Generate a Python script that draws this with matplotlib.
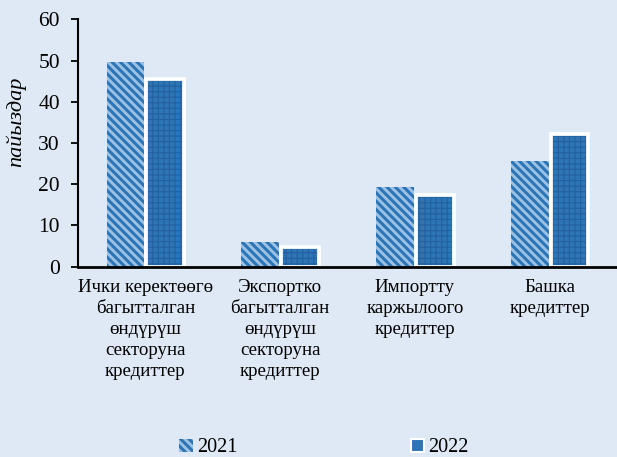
import numpy as np
import matplotlib
matplotlib.use("Agg")
import matplotlib.pyplot as plt
from matplotlib.patches import Patch

# dados (%)
categorias = [
    "Ички керектөөгө\nбагытталган\nөндүрүш\nсекторуна\nкредиттер",
    "Экспортко\nбагытталган\nөндүрүш\nсекторуна\nкредиттер",
    "Импортту\nкаржылоого\nкредиттер",
    "Башка\nкредиттер",
]
anos = ["2021", "2022"]
valores_2021 = [49.7, 6.0, 19.4, 25.6]
valores_2022 = [45.4, 4.7, 17.4, 32.2]
yticks = [0, 10, 20, 30, 40, 50, 60]

FUNDO = "#dee9f5"
AZUL_CLARO = "#9cc3e6"
AZUL = "#2e75b6"
AZUL_ESC = "#22609f"


def espessura_hachura(patches, lw):
    # espessura da hachura por barra (quando a versão permite)
    for p in patches:
        if hasattr(p, "set_hatch_linewidth"):
            p.set_hatch_linewidth(lw)


plt.rcParams["font.family"] = ["Liberation Serif", "DejaVu Serif"]
plt.rcParams["hatch.linewidth"] = 2.2

fig = plt.figure(figsize=(6.17, 4.57), dpi=100, facecolor=FUNDO)
ax = fig.add_axes([0.1264, 0.4164, 0.8736, 0.5414])
ax.set_facecolor(FUNDO)

x = np.arange(len(categorias))
w = 0.28
off = 0.148

# 2021 - listras diagonais
b21 = ax.bar(x - off, valores_2021, w, color=AZUL_CLARO, edgecolor=AZUL,
             hatch="\\\\\\\\", linewidth=0, zorder=2)
espessura_hachura(b21, 2.2)
h1 = Patch(facecolor=AZUL_CLARO, edgecolor=AZUL, hatch="\\\\\\\\", linewidth=0)

# 2022 - azul com trama fina, contorno branco
b22 = ax.bar(x + off, valores_2022, w, color=AZUL, edgecolor=AZUL_ESC,
             hatch="+++", linewidth=0, zorder=2)
espessura_hachura(b22, 0.8)
ax.bar(x + off, valores_2022, w, color="none", edgecolor="white",
       linewidth=2.7, zorder=3)

ax.set_xlim(-0.5, 3.5)
ax.set_ylim(0, 60)
ax.set_yticks(yticks)
ax.set_xticks(x)
ax.set_xticklabels(categorias, fontsize=13.6, linespacing=1.3)
ax.tick_params(axis="x", length=0, pad=9)
ax.tick_params(axis="y", labelsize=15.5, length=5, width=1.3, direction="out", pad=8)

for s in ["top", "right"]:
    ax.spines[s].set_visible(False)
ax.spines["left"].set_linewidth(1.5)
ax.spines["bottom"].set_linewidth(2.0)
ax.spines["bottom"].set_zorder(4)

fig.text(16 / 617, 1 - 122 / 457, "пайыздар", rotation=90, style="italic",
         fontsize=16, ha="center", va="center")

h2 = Patch(facecolor=AZUL, edgecolor="white", linewidth=1.5)
fig.legend([h1, h2], anos, loc="center", bbox_to_anchor=(0.525, 0.02),
           ncol=2, frameon=False, fontsize=14.5, handlelength=0.67,
           handleheight=0.6, handletextpad=0.2, columnspacing=8.6,
           borderpad=0.1)

fig.savefig("out.png", dpi=100, facecolor=FUNDO)
